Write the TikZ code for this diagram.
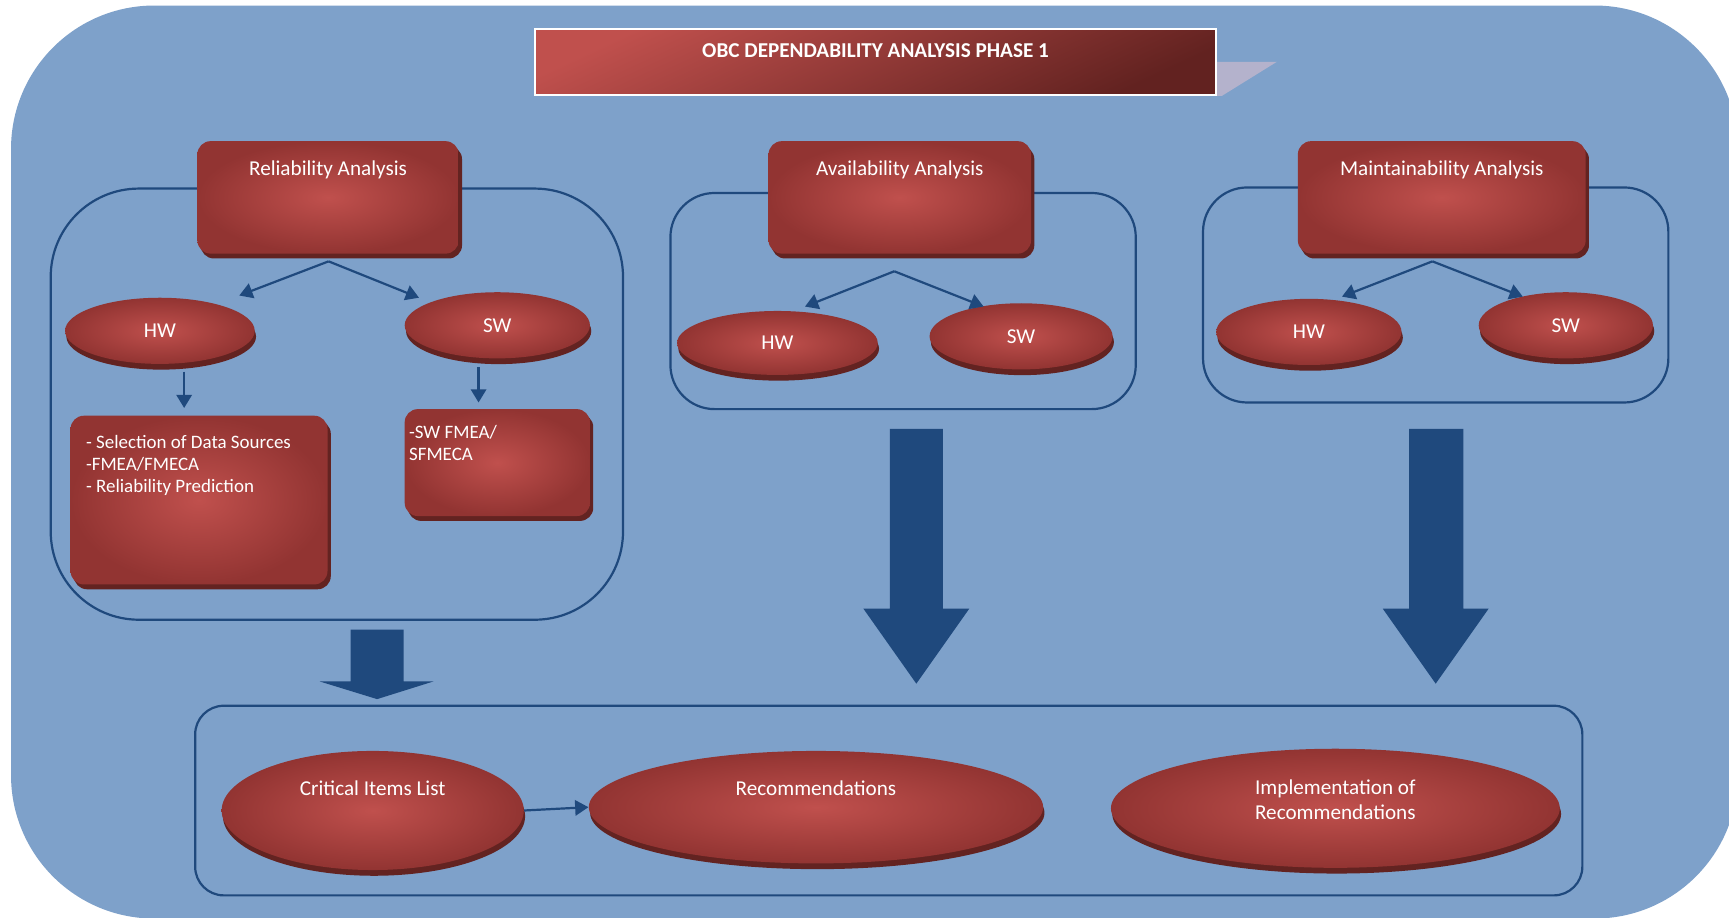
\documentclass[tikz,border=0pt]{standalone}
\usepackage{fontspec}
\setmainfont{Carlito}
\usetikzlibrary{shapes.geometric,shadows,arrows.meta}
\definecolor{bgblue}{RGB}{126,161,202}
\definecolor{navy}{RGB}{31,73,125}
\definecolor{redhi}{RGB}{192,80,77}
\definecolor{redlo}{RGB}{146,52,50}
\definecolor{redshadow}{RGB}{99,35,33}
\definecolor{titlelo}{RGB}{98,34,32}
\definecolor{tabgrey}{RGB}{180,178,204}
\newcommand\boxfont{\fontsize{9.6}{11.5}\selectfont}
\newcommand\listfont{\fontsize{8.6}{10}\selectfont}

\begin{document}
\begin{tikzpicture}[x=0.5pt,y=-0.5pt,
  frame/.style={draw=navy, line width=1pt, inner sep=0pt},
  redfill/.style={shade, shading=radial, inner color=redhi, outer color=redlo},
  redbox/.style={redfill, rounded corners=6pt, inner sep=0pt,
    general shadow={fill=redshadow, shadow xshift=1.5pt, shadow yshift=-2.2pt}},
  redoval/.style={redfill, ellipse, inner sep=0pt, text=white, font=\boxfont,
    general shadow={fill=redshadow, shadow xshift=0.6pt, shadow yshift=-2.6pt}},
  boxtitle/.style={text=white, font=\boxfont, inner sep=0pt, anchor=north, yshift=-9pt},
  listtext/.style={text=white, font=\listfont, inner sep=0pt, anchor=north west, align=left},
  conn/.style={draw=navy, line width=1pt, -{Triangle[width=7pt,length=6pt]}},
  blockarrow/.style={fill=navy}
]
\useasboundingbox (0,0) rectangle (1568,832);
\fill[white] (0,0) rectangle (1568,832);

% rounded backdrop panel, running off the right and bottom edges
\begin{scope}
  \clip (0,0) rectangle (1568,832);
  \fill[bgblue, rounded corners=65pt] (10,5) rectangle (1576,833);
\end{scope}

% title banner with its folded tab
\fill[tabgrey] (1103,56) -- (1158,56) -- (1108,87) -- (1103,87) -- cycle;
\node[draw=white, line width=1pt, top color=redhi, bottom color=titlelo, shading angle=25,
      minimum width=309pt, minimum height=30pt, inner sep=0pt,
      label={[text=white, font=\bfseries\boxfont, inner sep=0pt, anchor=north, yshift=-7pt]north:OBC DEPENDABILITY ANALYSIS PHASE 1}]
      (title) at (794,56) {};

% group frames
\node[frame, rounded corners=40pt, minimum width=259.5pt, minimum height=195.5pt] (relFrame) at (305.5,366.5) {};
\node[frame, rounded corners=20pt, minimum width=211pt, minimum height=98pt] (avaFrame) at (819,273) {};
\node[frame, rounded corners=20pt, minimum width=211pt, minimum height=97.5pt] (mntFrame) at (1302,267.5) {};
\node[frame, rounded corners=13pt, minimum width=629pt, minimum height=86pt] (botFrame) at (806,726) {};

% analysis headers
\node[redbox, minimum width=118.5pt, minimum height=51pt,
      label={[boxtitle]north:Reliability Analysis}] (relBox) at (297.5,179) {};
\node[redbox, minimum width=119pt, minimum height=51pt,
      label={[boxtitle]north:Availability Analysis}] (avaBox) at (816,179) {};
\node[redbox, minimum width=130.5pt, minimum height=51pt,
      label={[boxtitle]north:Maintainability Analysis}] (mntBox) at (1307.5,179) {};

% HW / SW items
\node[redoval, minimum width=86pt, minimum height=30pt] (relHW) at (145,300) {HW};
\node[redoval, minimum width=84pt, minimum height=30pt] (relSW) at (451,295) {SW};
\node[redoval, minimum width=91pt, minimum height=29pt] (avaHW) at (705,311) {HW};
\node[redoval, minimum width=83pt, minimum height=30pt] (avaSW) at (926,305) {SW};
\node[redoval, minimum width=84pt, minimum height=30pt] (mntHW) at (1187,301) {HW};
\node[redoval, minimum width=79pt, minimum height=30pt] (mntSW) at (1420,295) {SW};

% reliability task lists
\node[redbox, minimum width=116.5pt, minimum height=76.5pt,
      label={[listtext, xshift=7pt, yshift=-9pt]north west:{- Selection of Data Sources\\-FMEA/FMECA\\- Reliability Prediction}}]
      (hwList) at (180.5,453.5) {};
\node[redbox, minimum width=84pt, minimum height=48.5pt,
      label={[listtext, xshift=2pt, yshift=-7.5pt]north west:{-SW FMEA/\\SFMECA}}]
      (swList) at (451,419.5) {};

% outcome items
\node[redoval, minimum width=137pt, minimum height=54pt,
      label={[text=white, font=\boxfont, inner sep=0pt, yshift=10pt]center:Critical Items List}] (crit) at (338,735) {};
\node[redoval, minimum width=206pt, minimum height=51pt,
      label={[text=white, font=\boxfont, inner sep=0pt, yshift=8.5pt]center:Recommendations}] (recom) at (740,732) {};
\node[redoval, minimum width=203.5pt, minimum height=54pt,
      label={[text=white, font=\boxfont, inner sep=0pt, align=center, yshift=4pt]center:{Implementation of\\Recommendations}}] (impl) at (1211,733) {};

% fork points and arrow tips
\coordinate (relFork) at (298,237);
\coordinate (relHWtip) at (217,268);
\coordinate (relSWtip) at (380,270);
\coordinate (avaFork) at (811,246);
\coordinate (avaHWtip) at (730,278);
\coordinate (avaSWtip) at (892,278);
\coordinate (mntFork) at (1299,237);
\coordinate (mntHWtip) at (1217,269);
\coordinate (mntSWtip) at (1381,269);
\coordinate (relHWdown) at (167,337);
\coordinate (hwListTop) at (167,370);
\coordinate (relSWdown) at (434,333);
\coordinate (swListTop) at (434,365);

\draw[conn] (relFork) -- (relHWtip);
\draw[conn] (relFork) -- (relSWtip);
\draw[conn] (avaFork) -- (avaHWtip);
\draw[conn] (avaFork) -- (avaSWtip);
\draw[conn] (mntFork) -- (mntHWtip);
\draw[conn] (mntFork) -- (mntSWtip);
\draw[conn] (relHWdown) -- (hwListTop);
\draw[conn] (relSWdown) -- (swListTop);
\draw[conn] (crit.east) -- (recom.west);

% block arrows into the outcome frame
\fill[blockarrow] (318,571) -- (366,571) -- (366,618) -- (393,618) -- (342,634) -- (290,618) -- (318,618) -- cycle;
\fill[blockarrow] (807,389) -- (855,389) -- (855,552) -- (879,552) -- (831,620) -- (783,552) -- (807,552) -- cycle;
\fill[blockarrow] (1278,389) -- (1327,389) -- (1327,552) -- (1350,552) -- (1302,620) -- (1254,552) -- (1278,552) -- cycle;
\end{tikzpicture}
\end{document}
